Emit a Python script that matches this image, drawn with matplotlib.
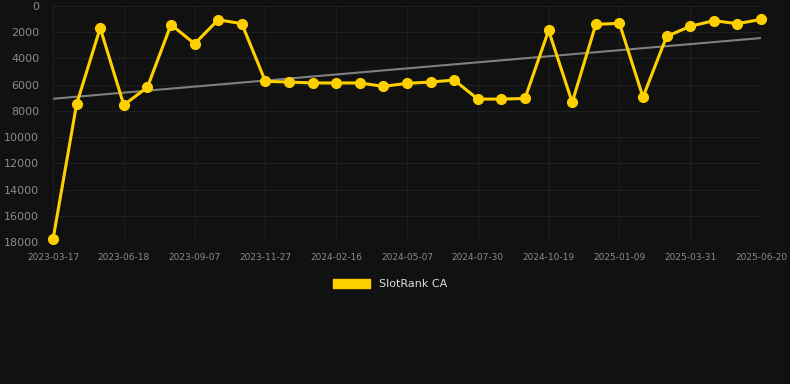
#!/usr/bin/env python3
"""
SlotRank CA rank history with linear trend.
"""

import numpy as np
import matplotlib
matplotlib.use("Agg")
import matplotlib.pyplot as plt

# data (rank, lower is better)
dates = [
    "2023-03-17", "", "", "2023-06-18", "", "", "2023-09-07", "", "",
    "2023-11-27", "", "", "2024-02-16", "", "", "2024-05-07", "", "",
    "2024-07-30", "", "", "2024-10-19", "", "", "2025-01-09", "", "",
    "2025-03-31", "", "", "2025-06-20",
]
ranks = [
    17800, 7480, 1680, 7550, 6200, 1420, 2880, 1050, 1350,
    5750, 5800, 5870, 5870, 5870, 6130, 5900, 5800, 5650,
    7100, 7100, 7050, 1860, 7350, 1400, 1320, 6950, 2320,
    1550, 1120, 1350, 1020,
]
y_ticks = [0, 2000, 4000, 6000, 8000, 10000, 12000, 14000, 16000, 18000]

BG = "#111111"
GOLD = "#FFD000"


def main() -> None:
    fig = plt.figure(figsize=(7.9, 3.84), dpi=100, facecolor=BG)
    ax = fig.add_axes([53 / 790, 1 - 242 / 384, (761 - 53) / 790, (242 - 6) / 384])
    ax.set_facecolor(BG)

    x = np.arange(len(ranks))
    y = np.array(ranks, dtype=float)

    # linear trend over the whole series
    slope, intercept = np.polyfit(x, y, 1)
    ax.plot(x, slope * x + intercept, color="#808080", lw=1.5, zorder=2)

    ax.plot(x, y, color=GOLD, lw=2.2, marker="o", ms=7, zorder=3,
            label="SlotRank CA", clip_on=False)

    ax.set_xlim(0, len(ranks) - 1)
    ax.set_ylim(18000, 0)
    ax.set_yticks(y_ticks)
    ax.set_yticklabels([str(t) for t in y_ticks])
    tick_idx = [i for i, d in enumerate(dates) if d]
    ax.set_xticks(tick_idx)
    ax.set_xticklabels([dates[i] for i in tick_idx])

    ax.grid(True, color="#1f1f1f", lw=0.8)
    ax.tick_params(axis="both", length=0, colors="#8a8a8a")
    ax.tick_params(axis="y", labelsize=8, pad=10)
    ax.tick_params(axis="x", labelsize=6.5, pad=8)
    for s in ax.spines.values():
        s.set_visible(False)

    leg = fig.legend(handles=[plt.Rectangle((0, 0), 1, 1, color=GOLD)],
                     labels=["SlotRank CA"], loc="center",
                     bbox_to_anchor=(390 / 790, 1 - 284 / 384), frameon=False,
                     handlelength=3.4, handleheight=0.9, fontsize=8)
    for t in leg.get_texts():
        t.set_color("#dddddd")

    fig.savefig("out.png", dpi=100, facecolor=BG)


if __name__ == "__main__":
    main()
